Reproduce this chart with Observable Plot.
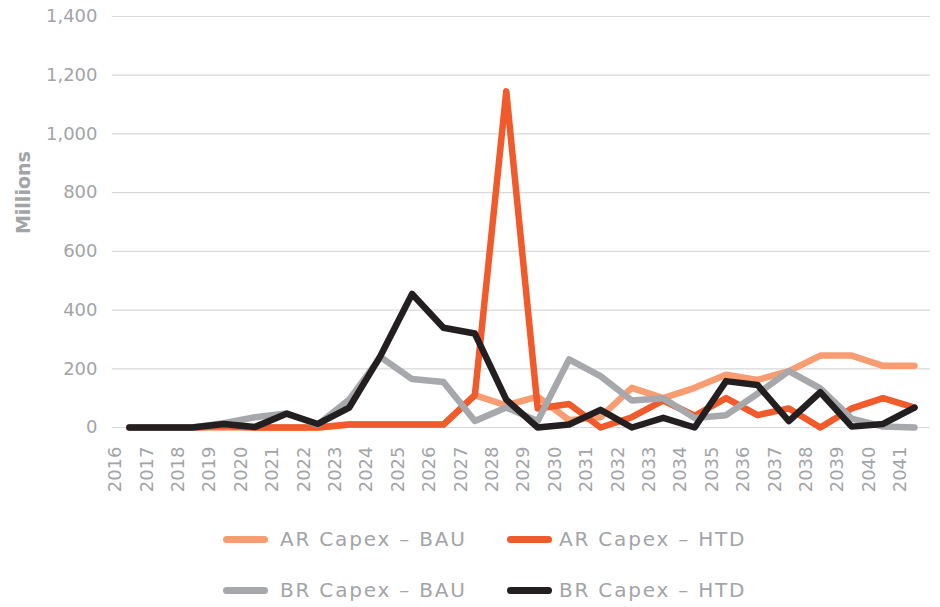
<!DOCTYPE html>
<html>
<head>
<meta charset="utf-8">
<script src="https://cdn.jsdelivr.net/npm/d3@7"></script>
<script src="https://cdn.jsdelivr.net/npm/@observablehq/plot@0.6"></script>
<style>
  html, body { margin: 0; padding: 0; background: #fff; }
  #wrap { width: 940px; position: relative; font-family: "DejaVu Sans", sans-serif; }
  #legend { position: relative; width: 940px; height: 97px; }
  .item { position: absolute; display: flex; align-items: center; height: 30px; }
  .sw { width: 45px; height: 7px; border-radius: 4px; }
  .lab { font-size: 20px; letter-spacing: 1.8px; color: #A2A4A7; white-space: nowrap; }
</style>
</head>
<body>
<div id="wrap">
  <div id="chart"></div>
  <div id="legend"></div>
</div>
<script>
const years = [2016, 2017, 2018, 2019, 2020, 2021, 2022, 2023, 2024, 2025, 2026, 2027, 2028,
               2029, 2030, 2031, 2032, 2033, 2034, 2035, 2036, 2037, 2038, 2039, 2040, 2041];
const seriesNames = ["AR Capex – BAU", "AR Capex – HTD", "BR Capex – BAU", "BR Capex – HTD"];
const seriesColors = ["#F89C71", "#F15A2B", "#A6A8AB", "#231F20"];
const arBau = [0, 0, 0, 0, 0, 0, 0, 10, 10, 10, 10, 110, 75, 105, 25, 35, 135, 100, 135, 180, 162, 192, 245, 245, 210, 210];
const arHtd = [0, 0, 0, 5, 0, 0, 0, 10, 10, 10, 10, 110, 1145, 65, 80, 0, 35, 92, 40, 100, 42, 65, 0, 65, 100, 68];
const brBau = [0, 0, 0, 15, 35, 48, 10, 95, 240, 165, 155, 22, 68, 22, 232, 175, 92, 100, 32, 42, 115, 192, 133, 30, 3, 0];
const brHtd = [0, 0, 0, 12, 2, 47, 12, 68, 245, 455, 340, 320, 95, 0, 10, 60, 0, 33, 0, 158, 145, 22, 120, 3, 12, 68];
const yTicks = [0, 200, 400, 600, 800, 1000, 1200, 1400];
const yLabel = "Millions";

const valuesBySeries = [arBau, arHtd, brBau, brHtd];
const data = seriesNames.flatMap((name, s) =>
  years.map((year, i) => ({ year, value: valuesBySeries[s][i], series: name })));

const textColor = "#A2A4A7";

const chart = Plot.plot({
  width: 940,
  height: 510,
  marginTop: 16,
  marginBottom: 83,
  marginLeft: 112,
  marginRight: 10,
  style: { fontFamily: "DejaVu Sans, sans-serif", fontSize: "18px", color: textColor, background: "#fff" },
  x: { domain: [2015.46, 2041.51] },
  y: { domain: [0, 1400] },
  color: { domain: seriesNames, range: seriesColors },
  marks: [
    Plot.gridY(yTicks, { stroke: "#D9D9D9", strokeOpacity: 1, strokeWidth: 1.2 }),
    Plot.axisY(yTicks, { tickSize: 0, tickPadding: 15, tickFormat: d3.format(","), label: null, fill: textColor }),
    Plot.axisX(years, { tickSize: 0, tickRotate: -90, tickPadding: 19, tickFormat: d => String(d), label: null, dx: -14, fill: textColor }),
    Plot.line(data, { x: "year", y: "value", z: "series", stroke: "series", strokeWidth: 6.5,
                      strokeLinecap: "round", strokeLinejoin: "round" }),
    Plot.text([yLabel], { y: 800, frameAnchor: "left", textAnchor: "middle", dx: -89, rotate: -90, text: d => d,
                          fontWeight: "bold", fontSize: 19, fill: textColor })
  ]
});
document.getElementById("chart").appendChild(chart);

// legend
const legend = document.getElementById("legend");
const legendPos = [
  { left: 223, top: 29, gap: 12 },
  { left: 507, top: 29, gap: 7 },
  { left: 223, top: 80, gap: 12 },
  { left: 507, top: 80, gap: 7 }
];
seriesNames.forEach((name, i) => {
  const p = legendPos[i];
  const item = document.createElement("div");
  item.className = "item";
  item.style.left = p.left + "px";
  item.style.top = (p.top - 15) + "px";
  const sw = document.createElement("div");
  sw.className = "sw";
  sw.style.background = seriesColors[i];
  sw.style.marginRight = p.gap + "px";
  const lab = document.createElement("span");
  lab.className = "lab";
  lab.textContent = name;
  item.appendChild(sw);
  item.appendChild(lab);
  legend.appendChild(item);
});
</script>
</body>
</html>
